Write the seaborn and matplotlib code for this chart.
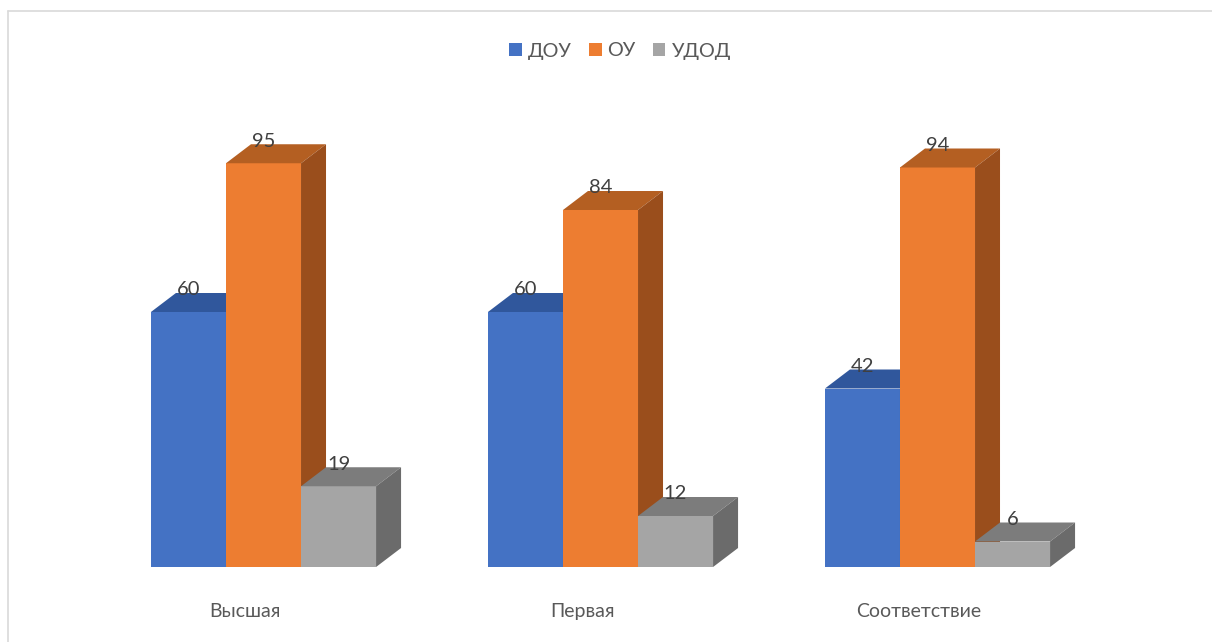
import numpy as np
import pandas as pd
import matplotlib
matplotlib.use("Agg")
import matplotlib.pyplot as plt
import seaborn as sns
from matplotlib.patches import Polygon
from matplotlib.lines import Line2D
from matplotlib.transforms import ScaledTranslation

# ---- data ----
categories = ["Высшая", "Первая", "Соответствие"]
series = ["ДОУ", "ОУ", "УДОД"]
dou = [60, 60, 42]
ou = [95, 84, 94]
udod = [19, 12, 6]

# ---- styles ----
front_colors = {"ДОУ": "#4472C4", "ОУ": "#ED7D31", "УДОД": "#A5A5A5"}
top_colors = {"ДОУ": "#30579C", "ОУ": "#B45F22", "УДОД": "#7C7C7C"}
side_colors = {"ДОУ": "#294B87", "ОУ": "#9A4E1C", "УДОД": "#6B6B6B"}

df = pd.DataFrame({
    "cat": categories * 3,
    "series": np.repeat(series, len(categories)),
    "value": dou + ou + udod,
})

sns.set_theme(style="white")
plt.rcParams["font.family"] = ["Lato", "DejaVu Sans"]

W, H = 1212, 642
fig = plt.figure(figsize=(W / 100, H / 100), dpi=100)
ax_l, ax_r, ax_b, ax_t = 100, 1100, 75, 542
ax = fig.add_axes([ax_l / W, ax_b / H, (ax_r - ax_l) / W, (ax_t - ax_b) / H])

px_per_x = 337.0   # pixels per category unit
px_per_y = 4.25    # pixels per value unit

sns.barplot(data=df, x="cat", y="value", hue="series", order=categories,
            hue_order=series, palette=front_colors, saturation=1,
            width=0.668, ax=ax, edgecolor="none", linewidth=0, errorbar=None)

x0 = -(263.5 - ax_l) / px_per_x
ax.set_xlim(x0, x0 + (ax_r - ax_l) / px_per_x)
ax.set_ylim(0, (ax_t - ax_b) / px_per_y)

dx = 25 / px_per_x
dy = 19 / px_per_y

for i, (name, cont) in enumerate(zip(series, ax.containers)):
    for bar in cont:
        x, w, h = bar.get_x(), bar.get_width(), bar.get_height()
        z = 2 + i
        bar.set_zorder(z)
        top = Polygon([(x, h), (x + w, h), (x + w + dx, h + dy), (x + dx, h + dy)],
                      closed=True, facecolor=top_colors[name], edgecolor="none", zorder=z)
        side = Polygon([(x + w, 0), (x + w + dx, dy), (x + w + dx, h + dy), (x + w, h)],
                       closed=True, facecolor=side_colors[name], edgecolor="none", zorder=z)
        ax.add_patch(top)
        ax.add_patch(side)
        ax.text(x + w / 2, h + dy - 2.4 / px_per_y, f"{h:g}", ha="center", va="baseline",
                fontsize=14.5, color="#404040", zorder=10)

for s in ax.spines.values():
    s.set_visible(False)
ax.set_xlabel("")
ax.set_ylabel("")
ax.set_yticks([])
ax.tick_params(axis="x", length=0, pad=26, labelsize=14, labelcolor="#595959")
for lab in ax.get_xticklabels():
    lab.set_transform(lab.get_transform() + ScaledTranslation(-18.5 / 100, 0, fig.dpi_scale_trans))

sns.move_legend(ax, "center", bbox_to_anchor=(620 / W, 1 - 51 / H),
                bbox_transform=fig.transFigure, ncol=3, frameon=False, title=None,
                handlelength=0.65, handleheight=0.65, handletextpad=0.3,
                columnspacing=0.85, fontsize=14.3, labelcolor="#595959")

# chart border (top and left edges visible)
fig.add_artist(Line2D([8 / W, 1], [1 - 11 / H, 1 - 11 / H], transform=fig.transFigure,
                      color="#D9D9D9", lw=1.2))
fig.add_artist(Line2D([8 / W, 8 / W], [0, 1 - 11 / H], transform=fig.transFigure,
                      color="#D9D9D9", lw=1.2))

fig.savefig("out.png", dpi=100, facecolor="white")
